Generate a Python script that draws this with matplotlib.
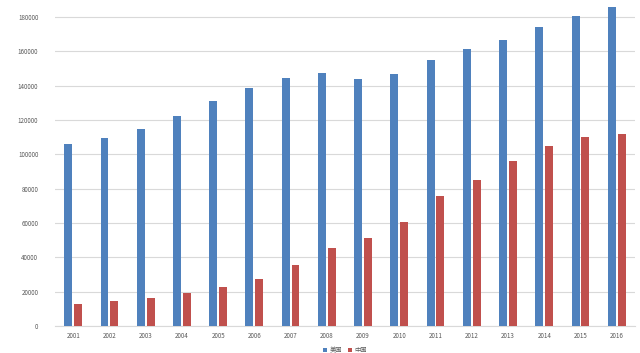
import numpy as np
import matplotlib.pyplot as plt

plt.rcParams['font.family'] = ['Noto Sans CJK SC', 'DejaVu Sans']

years = ['2001', '2002', '2003', '2004', '2005', '2006', '2007', '2008',
         '2009', '2010', '2011', '2012', '2013', '2014', '2015', '2016']
usa = [106000, 109500, 114800, 122300, 131000, 138600, 144500, 147400,
       143900, 146800, 155000, 161400, 166600, 174200, 180600, 185800]
china = [13000, 14600, 16100, 19200, 22700, 27200, 35500, 45600,
         51100, 60800, 75700, 85000, 96000, 104800, 110400, 111800]

barWidth = 0.22
gap = 0.05

x = np.arange(len(years))

fig = plt.figure(figsize=(6.4, 3.53), dpi=100)
ax = fig.add_axes([0.086, 0.0765, 0.906, 0.9235])

ax.bar(x - (barWidth + gap) / 2, usa, width=barWidth, color='#4F81BD', label='美国', zorder=3)
ax.bar(x + (barWidth + gap) / 2, china, width=barWidth, color='#C0504D', label='中国', zorder=3)

ax.set_xlim(-0.5, len(years) - 0.5)
ax.set_ylim(0, 190000)
ax.set_yticks(np.arange(0, 180001, 20000))
ax.set_xticks(x)
ax.set_xticklabels(years)
ax.tick_params(axis='both', length=0, labelsize=4.5, colors='#595959', pad=4)
ax.tick_params(axis='y', pad=12)

ax.grid(axis='y', color='#d9d9d9', linewidth=0.8, zorder=0)
for s in ['top', 'right', 'left']:
    ax.spines[s].set_visible(False)
ax.spines['bottom'].set_color('#d9d9d9')

ax.legend(loc='upper center', bbox_to_anchor=(0.5, -0.045), ncol=2, frameon=False,
          fontsize=4.5, handlelength=0.7, handleheight=0.7, handletextpad=0.3,
          columnspacing=1.0, labelcolor='#595959')

fig.savefig('out.png', dpi=100)
